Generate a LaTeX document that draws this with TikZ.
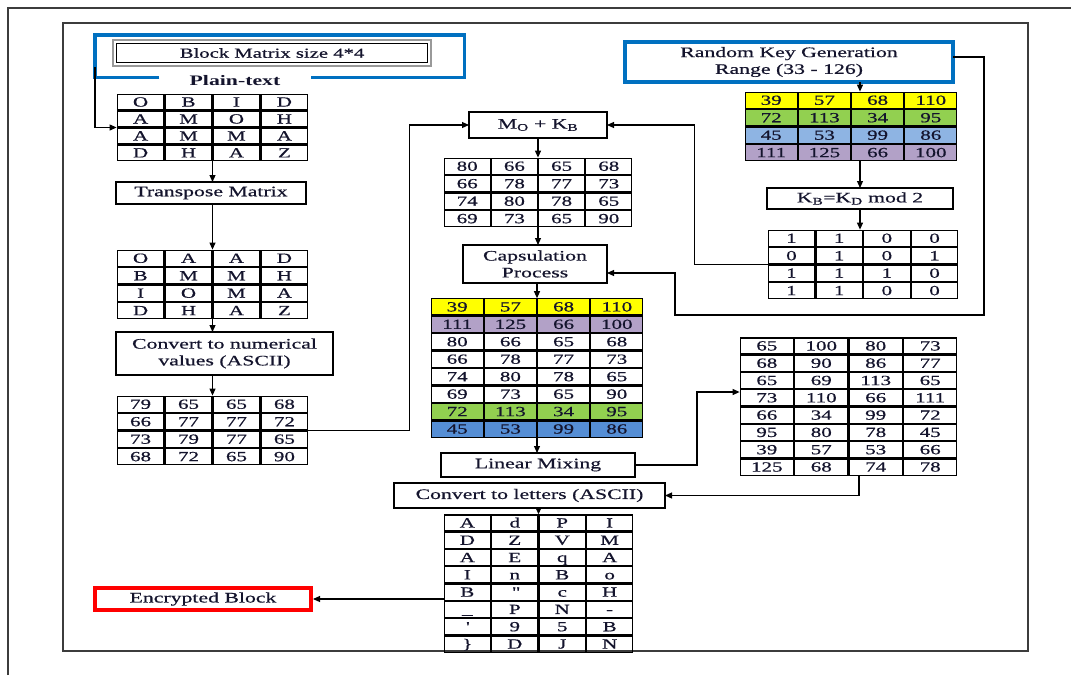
\documentclass[tikz,border=0pt]{standalone}
\usepackage{fontspec}
\setmainfont{Liberation Serif}[FakeStretch=1.5, UprightFeatures={FakeBold=0.6}]
\usetikzlibrary{matrix,arrows.meta}
\definecolor{txt}{RGB}{20,20,45}
\definecolor{bblue}{RGB}{0,112,192}
\definecolor{kyel}{RGB}{255,255,0}
\definecolor{kgrn}{RGB}{146,208,80}
\definecolor{klbl}{RGB}{142,180,227}
\definecolor{kpur}{RGB}{178,161,199}
\definecolor{kdbl}{RGB}{85,142,213}
\definecolor{frm}{RGB}{60,60,60}
\newcommand\boxfont{\fontsize{14.5}{16.8}\selectfont}
\newcommand\cellfont{\fontsize{14}{16}\selectfont}
\begin{document}
\begin{tikzpicture}[x=1pt,y=-1pt,
  box/.style={draw=black, line width=1.1pt, inner sep=0, outer sep=0, align=center, font=\boxfont, text=txt},
  tbl/.style 2 args={matrix of nodes, inner sep=0, outer sep=0, column sep=0, row sep=0,
    nodes={draw=black, line width=1.2pt, minimum width=#1, minimum height=#2, inner sep=0, outer sep=0,
      font=\cellfont, text=txt, text height=9.6pt, text depth=0.6pt, anchor=center}},
  arr/.style={-{Triangle[length=7pt,width=6pt]}, line width=1.1pt},
  frame/.style={draw=frm}]
\useasboundingbox (0,0) rectangle (1071,675);
\fill[white] (0,0) rectangle (1071,675);
% frames
\draw[frame, line width=2pt] (8,675) -- (8,8) -- (1071,8);
\draw[frame, line width=1.5pt] (63,23) rectangle (1028,651);

% plain-text block
\node[minimum width=369.5pt, minimum height=42.5pt, inner sep=0, outer sep=0] (pb) at (279.5,56) {};
\node[font=\fontsize{14.5}{16}\selectfont\bfseries, text=txt, minimum width=151pt, inner sep=0] (pl) at (235,81) {Plain-text};
\draw[bblue, line width=3.5pt] (pl.west |- pb.south) -- (pb.south west) -- (pb.north west) -- (pb.north east) -- (pb.south east) -- (pl.east |- pb.south);
\node[box, minimum width=318pt, minimum height=26pt, draw=gray!80, line width=2.6pt, font=\fontsize{13.8}{15}\selectfont] (bm) at (272,53) {Block Matrix size 4*4};
\draw[line width=1pt] ([shift={(3.5pt,3.5pt)}]bm.south west) rectangle ([shift={(-3.5pt,-3.5pt)}]bm.north east);

\matrix (t1) [tbl={46.75pt}{15.75pt}] at (212.5,127.5) {O & B & I & D\\ A & M & O & H\\ A & M & M & A\\ D & H & A & Z\\};
\node[box, minimum width=190pt, minimum height=22pt] (tr) at (211,193) {Transpose Matrix};
\matrix (t2) [tbl={46.75pt}{16.25pt}] at (212.5,284.5) {O & A & A & D\\ B & M & M & H\\ I & O & M & A\\ D & H & A & Z\\};
\node[box, minimum width=217pt, minimum height=43pt] (cv) at (224.5,353.5) {Convert to numerical\\values (ASCII)};
\matrix (t3) [tbl={46.75pt}{16.25pt}] at (212.5,430.5) {79 & 65 & 65 & 68\\ 66 & 77 & 77 & 72\\ 73 & 79 & 77 & 65\\ 68 & 72 & 65 & 90\\};

% middle column
\node[box, minimum width=138pt, minimum height=26pt] (mk) at (538,125) {M\textsubscript{O} + K\textsubscript{B}};
\matrix (t4) [tbl={46pt}{16.25pt}] at (538,192.5) {80 & 66 & 65 & 68\\ 66 & 78 & 77 & 73\\ 74 & 80 & 78 & 65\\ 69 & 73 & 65 & 90\\};
\node[box, minimum width=144pt, minimum height=38pt] (cap) at (535,264) {Capsulation\\Process};
\matrix (big) [tbl={52pt}{16.25pt}, row 1/.style={nodes={fill=kyel}}, row 2/.style={nodes={fill=kpur}},
  row 7/.style={nodes={fill=kgrn}}, row 8/.style={nodes={fill=kdbl}}] at (537,368)
  {39 & 57 & 68 & 110\\ 111 & 125 & 66 & 100\\ 80 & 66 & 65 & 68\\ 66 & 78 & 77 & 73\\ 74 & 80 & 78 & 65\\ 69 & 73 & 65 & 90\\ 72 & 113 & 34 & 95\\ 45 & 53 & 99 & 86\\};
\node[box, minimum width=194pt, minimum height=24pt] (lm) at (538,465) {Linear Mixing};
\node[box, minimum width=271pt, minimum height=25pt] (cl) at (529.5,495.5) {Convert to letters (ASCII)};
\matrix (lt) [tbl={46.25pt}{16.1pt}] at (538.5,583.5)
  {A & d & P & I\\ D & Z & V & M\\ A & E & q & A\\ I & n & B & o\\ B & \textquotedbl & c & H\\ \_ & P & N & -\\ \textquotesingle & 9 & 5 & B\\ \} & D & J & N\\};
\node[draw=red, line width=4pt, inner sep=0, outer sep=0, minimum width=216pt, minimum height=22pt, font=\boxfont, text=txt] (enc) at (203,599) {Encrypted Block};

% right column
\node[draw=bblue, line width=4pt, inner sep=0, outer sep=0, minimum width=328pt, minimum height=40pt, align=center, font=\boxfont, text=txt] (rk) at (789,62) {Random Key Generation\\Range (33 - 126)};
\matrix (key) [tbl={52pt}{16.25pt}, row 1/.style={nodes={fill=kyel}}, row 2/.style={nodes={fill=kgrn}},
  row 3/.style={nodes={fill=klbl}}, row 4/.style={nodes={fill=kpur}}] at (851,126.5)
  {39 & 57 & 68 & 110\\ 72 & 113 & 34 & 95\\ 45 & 53 & 99 & 86\\ 111 & 125 & 66 & 100\\};
\node[box, minimum width=186pt, minimum height=21pt] (kb) at (860,198.5) {K\textsubscript{B}=K\textsubscript{D} mod 2};
\matrix (bin) [tbl={46.5pt}{16.25pt}] at (863,264.5) {1 & 1 & 0 & 0\\ 0 & 1 & 0 & 1\\ 1 & 1 & 1 & 0\\ 1 & 1 & 0 & 0\\};
\matrix (mix) [tbl={53.25pt}{16.1pt}] at (848.5,406.5)
  {65 & 100 & 80 & 73\\ 68 & 90 & 86 & 77\\ 65 & 69 & 113 & 65\\ 73 & 110 & 66 & 111\\ 66 & 34 & 99 & 72\\ 95 & 80 & 78 & 45\\ 39 & 57 & 53 & 66\\ 125 & 68 & 74 & 78\\};

% connectors
\draw[arr] ([xshift=0.25pt,yshift=10.25pt]pb.south west) |- (t1.west);
\draw[arr] (t1.south) -- (t1.south |- tr.north);
\draw[arr] (tr.south -| t2.north) -- (t2.north);
\draw[arr] (t2.south) -- (t2.south |- cv.north);
\draw[arr] (cv.south -| t3.north) -- (t3.north);
\draw[arr] (t3.east) -- ++(101,0) |- (mk.west);
\draw[arr] (mk.south -| t4.north) -- (t4.north);
\draw[arr] (t4.south) -- (t4.south |- cap.north);
\draw[arr] (cap.south -| big.north) -- (big.north);
\draw[arr] (big.south) -- (big.south |- lm.north);
\draw[arr] (kb.north |- rk.south) -- (kb.north |- key.north);
\draw[arr] (kb.north |- key.south) -- (kb.north);
\draw[arr] (kb.south) -- (kb.south |- bin.north);
\draw[arr] (bin.west) -- ++(-73,0) |- (mk.east);
\coordinate (c1) at (984,315);
\coordinate (c2) at (675,315);
\draw[arr] ([yshift=5pt]rk.east) -| (c1) -- (c2) |- ([yshift=-9pt]cap.east);
\draw[arr] (lm.east) -- ++(62,0) |- ([yshift=14.5pt]mix.west);
\draw[arr] ([xshift=10.5pt]mix.south) |- (cl.east);
\draw[arr] (cl.south -| lt.north) -- (lt.north);
\draw[arr, shorten >=2pt] (lt.west |- enc.east) -- (enc.east);
\end{tikzpicture}
\end{document}
